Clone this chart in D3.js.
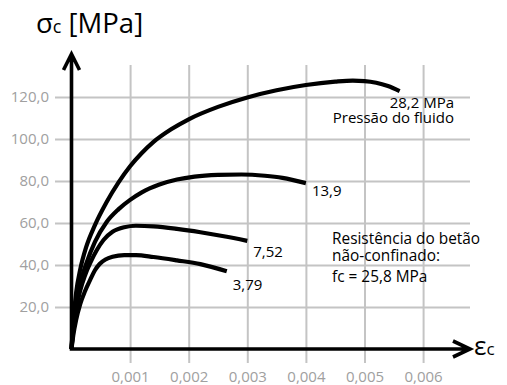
<!DOCTYPE html>
<html>
<head>
<meta charset="utf-8">
<script src="https://cdn.jsdelivr.net/npm/d3@7"></script>
<style>
  html, body { margin: 0; padding: 0; background: #fff; }
  svg { display: block; font-family: "Open Sans", sans-serif; }
</style>
</head>
<body>
<svg id="chart" width="507" height="385"></svg>
<script>
// Stress–strain curves of confined concrete (σc vs εc), one per fluid pressure.
const xTicks = [0.001, 0.002, 0.003, 0.004, 0.005, 0.006];
const xTickLabels = ["0,001", "0,002", "0,003", "0,004", "0,005", "0,006"];
const yTicks = [20, 40, 60, 80, 100, 120];
const yTickLabels = ["20,0", "40,0", "60,0", "80,0", "100,0", "120,0"];

const curveLabels = ["3,79", "7,52", "13,9", "28,2 MPa"];

// [strain, stress in MPa]
const s379 = [[0,0],[0.00003,6.5],[0.00008,14],[0.00015,21.5],[0.00023,27.5],[0.00032,33],[0.0004,37.5],[0.00048,40.5],[0.00058,42.6],[0.0007,43.9],[0.0009,44.7],[0.0011,44.7],[0.0014,43.8],[0.0018,42.2],[0.0022,40.4],[0.00265,37]];
const s752 = [[0,0],[0.00003,9],[0.00008,19],[0.00015,28],[0.00023,35],[0.00032,41],[0.00043,47],[0.00055,52],[0.0007,55.8],[0.0009,58],[0.0011,58.7],[0.0014,58.4],[0.0018,57.2],[0.0022,55.6],[0.0026,53.7],[0.003,51.5]];
const s139 = [[0,0],[0.00003,11],[0.00008,22],[0.00015,31.5],[0.00025,40.5],[0.0004,51],[0.0006,60.5],[0.0008,66.5],[0.001,71],[0.0012,74.6],[0.0015,78.3],[0.0018,80.7],[0.0021,82.1],[0.0025,82.9],[0.0029,83.1],[0.0033,82.5],[0.0036,81.5],[0.004,79]];
const s282 = [[0,0],[0.00003,13],[0.00008,27],[0.00015,38],[0.00025,48.5],[0.0004,59],[0.0006,70],[0.0008,79.2],[0.001,87],[0.0012,93.3],[0.0014,98.6],[0.0017,104.6],[0.002,109.4],[0.0025,115.3],[0.003,119.8],[0.0035,123.2],[0.004,125.7],[0.0045,127.3],[0.0048,127.8],[0.005,127.6],[0.0052,126.8],[0.0054,125.2],[0.0056,122.8]];

const svg = d3.select("#chart");

const x = d3.scaleLinear().domain([0, 0.006]).range([71.5, 423.1]);
const y = d3.scaleLinear().domain([0, 120]).range([349, 97]);

const gridColor = "#c4c4c4";
const tickColor = "#a0a0a0";

// Horizontal grid + y tick labels
const yAxis = svg.append("g")
  .attr("transform", "translate(55,0)")
  .call(d3.axisLeft(y).tickValues(yTicks).tickSize(-(470 - 55)).tickPadding(6)
    .tickFormat((d, i) => yTickLabels[i]));
yAxis.select(".domain").remove();
yAxis.selectAll(".tick line").attr("stroke", gridColor).attr("stroke-width", 2);
yAxis.selectAll(".tick text").attr("fill", tickColor).attr("font-size", 15)
  .attr("font-family", "Open Sans, sans-serif");

// Vertical grid + x tick labels
const xAxis = svg.append("g")
  .attr("transform", "translate(0,363)")
  .call(d3.axisBottom(x).tickValues(xTicks).tickSize(-(363 - 65)).tickPadding(8)
    .tickFormat((d, i) => xTickLabels[i]));
xAxis.select(".domain").remove();
xAxis.selectAll(".tick line").attr("stroke", gridColor).attr("stroke-width", 2);
xAxis.selectAll(".tick text").attr("fill", tickColor).attr("font-size", 15)
  .attr("font-family", "Open Sans, sans-serif");

// Curves
const line = d3.line().x(d => x(d[0])).y(d => y(d[1])).curve(d3.curveMonotoneX);
[s379, s752, s139, s282].forEach(s => {
  svg.append("path").attr("d", line(s))
    .attr("fill", "none").attr("stroke", "#000").attr("stroke-width", 4.2)
    .attr("stroke-linecap", "butt").attr("stroke-linejoin", "round");
});

// Axes with open arrowheads
const ox = x(0), oy = y(0);
const yTip = 54, xTip = 470;
svg.append("path")
  .attr("d", `M${ox},${oy} L${ox},${yTip + 1} M${ox - 8},${yTip + 16} L${ox},${yTip} L${ox + 8},${yTip + 16}`)
  .attr("fill", "none").attr("stroke", "#000").attr("stroke-width", 3.6).attr("stroke-linejoin", "miter");
svg.append("path")
  .attr("d", `M${ox - 1.8},${oy} L${xTip - 1},${oy} M${xTip - 17},${oy - 8} L${xTip},${oy} L${xTip - 17},${oy + 8}`)
  .attr("fill", "none").attr("stroke", "#000").attr("stroke-width", 3.6).attr("stroke-linejoin", "miter");

// Axis titles
const yTitle = svg.append("text").attr("x", 36).attr("y", 33).attr("font-size", 27.5).attr("fill", "#000");
yTitle.append("tspan").text("σ");
yTitle.append("tspan").attr("font-size", 18).text("c");
yTitle.append("tspan").text(" [MPa]");

const xTitle = svg.append("text").attr("x", 474).attr("y", 355).attr("font-size", 26).attr("fill", "#000");
xTitle.append("tspan").text("ε");
xTitle.append("tspan").attr("font-size", 17).text("c");

// Curve end labels
const lab = (tx, ty, t, anchor, fs) => svg.append("text").attr("x", tx).attr("y", ty)
  .attr("font-size", fs || 15).attr("fill", "#000").attr("text-anchor", anchor || "start").text(t);
lab(x(0.00265) + 6, 290, curveLabels[0]);
lab(x(0.003) + 6, 257, curveLabels[1]);
lab(x(0.004) + 6, 196, curveLabels[2]);
lab(454, 108, curveLabels[3], "end");
lab(454, 123, "Pressão do fluido", "end");

// Unconfined strength note
lab(332, 244, "Resistência do betão", "start", 15.4);
lab(332, 261, "não-confinado:", "start", 15.4);
lab(332, 282, "fc = 25,8 MPa", "start", 15.4);
</script>
</body>
</html>
